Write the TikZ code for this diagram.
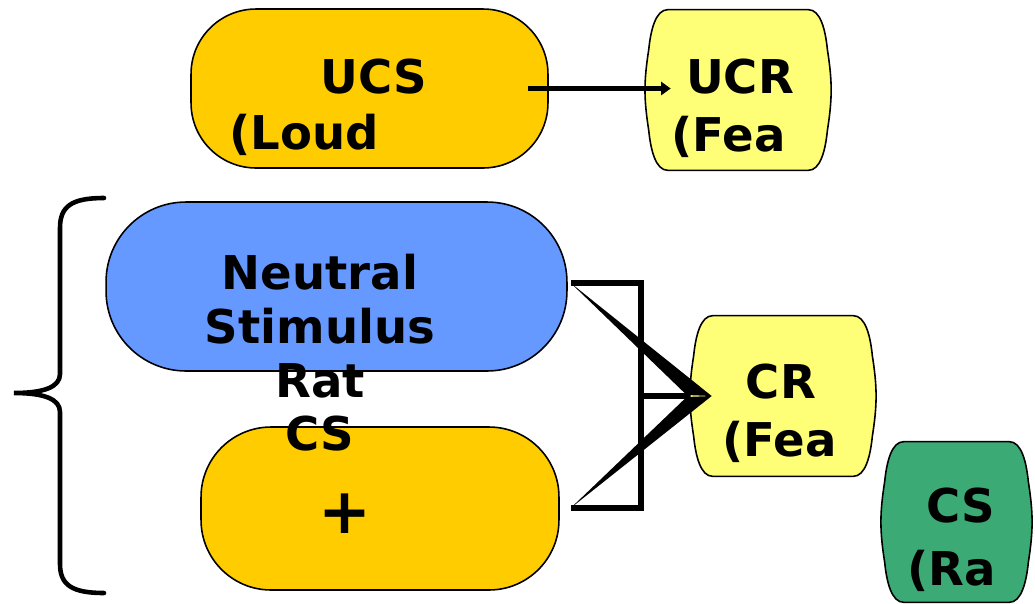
\documentclass[tikz,border=0pt]{standalone}
\usepackage{fontspec}
\setmainfont{DejaVu Sans}
\usepackage{xcolor}
\usetikzlibrary{positioning, arrows.meta, calc}
\definecolor{stimGold}{HTML}{FFCC00}
\definecolor{respYellow}{HTML}{FFFF77}
\definecolor{neutralBlue}{HTML}{6699FF}
\definecolor{csGreen}{HTML}{3BAA74}

% barrel-shaped outline round an (invisible) node
\newcommand{\drawbarrel}[2]{%
  \filldraw[fill=#2, draw=black, line width=0.9pt]
    ($(#1.north west)+(24,0)$) -- ($(#1.north east)+(-24,0)$)
    .. controls ($(#1.north east)+(-12,0)$) and ($(#1.north east)+(-7,20)$) .. ($(#1.north east)+(-5,40)$)
    .. controls ($(#1.north east)+(0,72)$) and ($(#1.south east)+(0,-72)$) .. ($(#1.south east)+(-5,-40)$)
    .. controls ($(#1.south east)+(-7,-20)$) and ($(#1.south east)+(-12,0)$) .. ($(#1.south east)+(-24,0)$)
    -- ($(#1.south west)+(24,0)$)
    .. controls ($(#1.south west)+(12,0)$) and ($(#1.south west)+(7,-20)$) .. ($(#1.south west)+(5,-40)$)
    .. controls ($(#1.south west)+(0,-72)$) and ($(#1.north west)+(0,72)$) .. ($(#1.north west)+(5,40)$)
    .. controls ($(#1.north west)+(7,20)$) and ($(#1.north west)+(12,0)$) .. cycle;
}

\begin{document}
\begin{tikzpicture}[
  x=0.02cm, y=-0.02cm,
  every node/.style={font=\fontsize{26.5}{30.5}\selectfont\bfseries},
  blob/.style={
    rectangle, draw=black, line width=0.9pt, inner sep=0pt
  },
  bigblob/.style={blob, rounded corners=1.3cm},
  smallblob/.style={rectangle, inner sep=0pt,
    minimum width=3.76cm, minimum height=3.2cm},
  lbl/.style={inner sep=0pt, anchor=base},
  lblw/.style={inner sep=0pt, anchor=base west},
  link/.style={line width=3.2pt},
]
\useasboundingbox (0,0) rectangle (1035,603);
\clip (0,0) rectangle (1035,603);

% Shapes
\node[bigblob, fill=stimGold, minimum width=7.14cm, minimum height=3.18cm] (ucs) at (369.5,88.5) {};
\node[smallblob, right=1.9cm of ucs, yshift=-0.03cm] (ucr) {};
\node[bigblob, fill=neutralBlue, rounded corners=1.6cm, minimum width=9.22cm, minimum height=3.38cm] (neutral) at (336.5,286.5) {};
\node[bigblob, fill=stimGold, rounded corners=1.4cm, minimum width=7.16cm, minimum height=3.26cm] (pairing) at (380,508.5) {};
\node[smallblob] (cr) at (783,396) {};
\node[smallblob, minimum width=3.06cm] (cs) at (956.5,522) {};
\drawbarrel{ucr}{respYellow}
\drawbarrel{cr}{respYellow}
\drawbarrel{cs}{csGreen}

% Labels
\node[lbl] (ucsA) at (374,93) {UCS};
\node[lblw] (ucsB) at (229,149) {(Loud};
\node[lbl] (ucrA) at (740,93) {UCR};
\node[lblw] (ucrB) at (671,151) {(Fea};
\node[align=center, inner sep=0pt] (neutralTxt) at (320,353) {Neutral\\Stimulus\\Rat\\CS};
\node[inner sep=0pt, font=\fontsize{36}{40}\selectfont\bfseries] (plusTxt) at (344.5,514) {+};
\node[lbl] (crA) at (781,398) {CR};
\node[lblw] (crB) at (722,456) {(Fea};
\node[lbl] (csA) at (961,522) {CS};
\node[lblw] (csB) at (907,585) {(Ra};

% Brace
\draw[line width=2.6pt, line cap=round]
  (104,198) .. controls (72,198) and (60,206) .. (60,228) -- (60,374)
  .. controls (60,387) and (44,393) .. (14,393)
  .. controls (44,393) and (60,399) .. (60,412) -- (60,564)
  .. controls (60,585) and (72,593) .. (104,593);

% Connections
\draw[link, -{Triangle[length=5.5pt, width=7.5pt]}]
  ([xshift=-0.42cm]ucs.east) -- ([xshift=0.54cm]ucs.east -| ucr.west);

\coordinate (nOut) at ($(neutral.east)+(3,-3.5)$);
\coordinate (pOut) at ($(pairing.east)+(11,-0.5)$);
\coordinate (jBot) at (641,508);
\coordinate (crTip) at ($(cr.west)+(23,0)$);
\draw[link] (nOut) -| (jBot) -- (pOut);
\draw[link] (jBot |- cr.west) -- (cr.west);
\fill (nOut) -- (crTip) -- ($(cr.west)+(-2,-1)$) -- cycle;
\fill (pOut) -- (crTip) -- ($(cr.west)+(-2,1)$) -- cycle;

\end{tikzpicture}
\end{document}
